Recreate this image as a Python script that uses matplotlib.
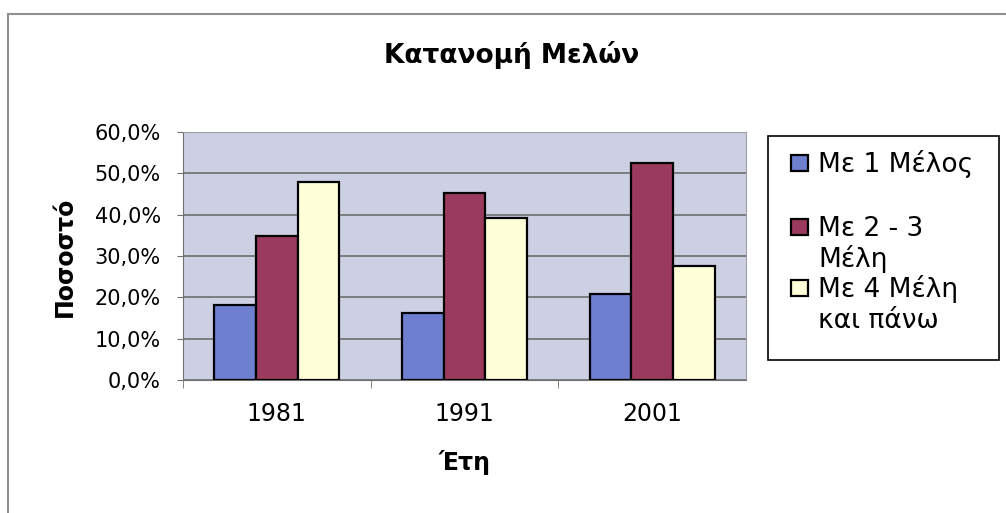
import matplotlib
matplotlib.use('Agg')
import matplotlib.pyplot as plt
from matplotlib.patches import Rectangle
from matplotlib.lines import Line2D
import numpy as np

plt.rcParams['font.family'] = ['DejaVu Sans']

years = ['1981', '1991', '2001']
series_names = ['Με 1 Μέλος', 'Με 2 - 3\nΜέλη', 'Με 4 Μέλη\nκαι πάνω']
one_member = [18.1, 16.1, 20.7]
two_three = [34.8, 45.3, 52.6]
four_plus = [47.9, 39.3, 27.6]
colors = ['#6f7fcf', '#9a3b5d', '#ffffd8']
yticks = [0, 10, 20, 30, 40, 50, 60]

W, H = 1006, 513
fig = plt.figure(figsize=(W / 100, H / 100), dpi=100)
ax = fig.add_axes([183 / W, 1 - 380 / H, (746 - 183) / W, (380 - 132) / H])
ax.set_facecolor('#cdd0e3')

x = np.arange(len(years))
w = 0.222
for i, vals in enumerate([one_member, two_three, four_plus]):
    ax.bar(x + (i - 1) * w, vals, width=w, color=colors[i], edgecolor='black',
           linewidth=1.6, zorder=3)

ax.set_xlim(-0.5, 2.5)
ax.set_ylim(0, 60)
ax.set_yticks(yticks)
ax.set_yticklabels([f'{v:.1f}%'.replace('.', ',') for v in yticks], fontsize=15)
ax.yaxis.grid(True, color='#6e6e6e', linewidth=1.2, zorder=1)
ax.set_xticks(x)
ax.set_xticklabels(years, fontsize=17)
ax.tick_params(axis='x', length=0, pad=16)
ax.tick_params(axis='y', length=4, color='#707070', pad=12)
ax.set_xticks([-0.5, 0.5, 1.5], minor=True)
ax.tick_params(axis='x', which='minor', length=6, color='#707070')
for s in ['top', 'right']:
    ax.spines[s].set_color('#a0a0a0')
for s in ['left', 'bottom']:
    ax.spines[s].set_color('#707070')

fig.text(512 / W, 1 - 63 / H, 'Κατανομή Μελών', fontsize=19, fontweight='bold',
         ha='center', va='baseline')
fig.text(65 / W, 1 - 257 / H, 'Ποσοστό', fontsize=17, fontweight='bold',
         rotation=90, ha='center', va='center')
fig.text(465 / W, 1 - 470 / H, 'Έτη', fontsize=17, fontweight='bold',
         ha='center', va='baseline')

# legend drawn by hand to match wrapped layout
fig.patches.append(Rectangle((768 / W, 1 - 360 / H), (999 - 768) / W, (360 - 136) / H,
                             transform=fig.transFigure, facecolor='white', edgecolor='black',
                             linewidth=1.2))
first_base = [172, 236, 297]
for i, name in enumerate(series_names):
    b = first_base[i]
    fig.patches.append(Rectangle((791 / W, 1 - (b - 1) / H), 17 / W, 16 / H,
                                 transform=fig.transFigure, facecolor=colors[i],
                                 edgecolor='black', linewidth=1.6))
    for j, line in enumerate(name.split('\n')):
        fig.text(818 / W, 1 - (b + 31 * j) / H, line, fontsize=19, ha='left',
                 va='baseline')

# partial chart border
fig.add_artist(Line2D([8 / W, 1], [1 - 14 / H, 1 - 14 / H], transform=fig.transFigure,
                      color='#909090', linewidth=1.5))
fig.add_artist(Line2D([8 / W, 8 / W], [1 - 14 / H, 0], transform=fig.transFigure,
                      color='#909090', linewidth=1.5))

fig.savefig('out.png', dpi=100, facecolor='white')
